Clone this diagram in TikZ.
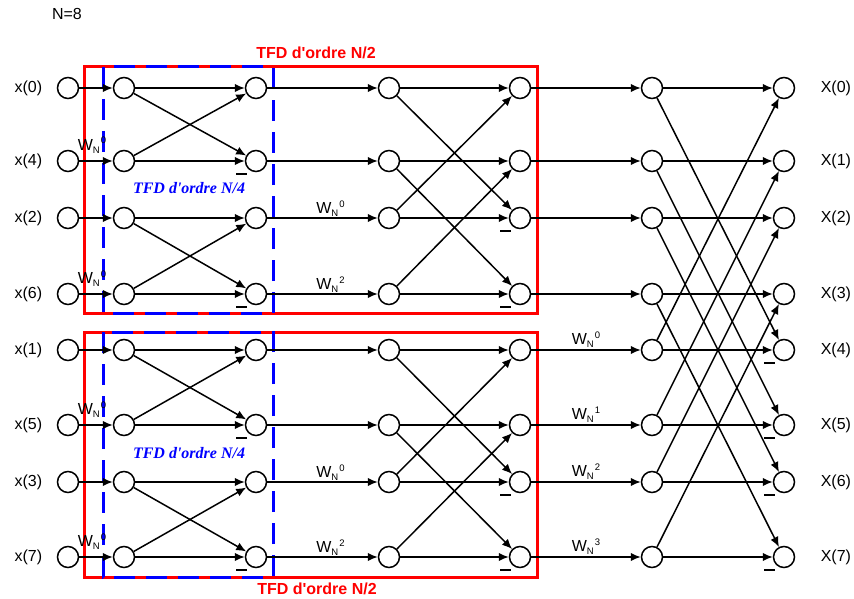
\documentclass[tikz,border=0pt]{standalone}
\usepackage{fontspec}
\setmainfont{Liberation Sans}
\newfontfamily\serifbf{Liberation Serif}
\usepackage{tikz}
\usetikzlibrary{arrows.meta,positioning,calc}
\usepackage{xcolor}
\definecolor{boxred}{RGB}{255,0,0}
\definecolor{boxblue}{RGB}{0,0,255}
\newcommand{\twf}[1]{W\raisebox{-3pt}{\fontsize{9.5}{10}\selectfont N}\hspace{1pt}\raisebox{6pt}{\fontsize{9.5}{10}\selectfont #1}}

\begin{document}
\begin{tikzpicture}[
    x=1pt, y=-1pt,
    every node/.style={font=\fontsize{16}{19}\selectfont},
    dot/.style={circle, draw, line width=1.5pt, fill=white, minimum size=21pt, inner sep=0pt},
    arr/.style={-{Latex[length=10pt,width=8.5pt]}, line width=1.5pt},
    sgn/.style={fill=black, minimum width=11pt, minimum height=2.4pt, inner sep=0pt},
    tw/.style={midway, anchor=base, inner sep=0pt},
    halfbox/.style={draw=boxred, line width=3pt},
    quarterbox/.style={draw=boxblue, line width=3pt, dash pattern=on 21pt off 11pt},
    halftitle/.style={text=boxred, font=\fontsize{16}{19}\selectfont\bfseries},
    quartertitle/.style={text=boxblue, font=\fontsize{16}{19}\selectfont\serifbf\bfseries\itshape}
]
    \useasboundingbox (0,0) rectangle (854,599);

    % Sub-transform boxes
    \draw[halfbox] (84,67) rectangle (537,313);
    \draw[halfbox] (84,332) rectangle (537,577);
    \draw[quarterbox] (103,67) rectangle (273,313);
    \draw[quarterbox] (103,332) rectangle (273,577);

    \node[halftitle] (half-top) at (316,53) {TFD d\textquotesingle ordre N/2};
    \node[halftitle] (half-bot) at (317,589) {TFD d\textquotesingle ordre N/2};
    \node[quartertitle] (quarter-top) at (189,188) {TFD d\textquotesingle ordre N/4};
    \node[quartertitle] (quarter-bot) at (189,453) {TFD d\textquotesingle ordre N/4};

    % Nodes of the flow graph
    \foreach \c/\x in {0/68,1/124,2/256,3/389,4/520,5/652,6/784}
        \foreach \r/\y in {0/88,1/161,2/218,3/294,4/350,5/425,6/482,7/557}
            \node[dot] (n\c-\r) at (\x,\y) {};

    % Inputs and outputs
    \node (size) at (67,14) {N=8};
    \foreach \r/\k in {0/0,1/4,2/2,3/6,4/1,5/5,6/3,7/7}
        \node[left=11pt of n0-\r] (in-\r) {x(\k)};
    \foreach \r in {0,...,7}
        \node[right=22pt of n6-\r] (out-\r) {X(\r)};

    % Stage 1
    \foreach \r in {0,2,4,6} \draw[arr] (n0-\r) -- (n1-\r);
    \foreach \r in {1,3,5,7} \draw[arr] (n0-\r) -- node[tw, xshift=-4pt, yshift=11pt] {\twf{0}} (n1-\r);
    \foreach \a/\b in {0/1,2/3,4/5,6/7} {
        \draw[arr] (n1-\a) -- (n2-\a);
        \draw[arr] (n1-\b) -- (n2-\b);
        \draw[arr] (n1-\a) -- (n2-\b);
        \draw[arr] (n1-\b) -- (n2-\a);
    }

    % Stage 2
    \foreach \r in {0,1,4,5} \draw[arr] (n2-\r) -- (n3-\r);
    \foreach \r/\k in {2/0,3/2,6/0,7/2} \draw[arr] (n2-\r) -- node[tw, xshift=8pt, yshift=5pt] {\twf{\k}} (n3-\r);
    \foreach \a/\b in {0/2,1/3,4/6,5/7} {
        \draw[arr] (n3-\a) -- (n4-\a);
        \draw[arr] (n3-\b) -- (n4-\b);
        \draw[arr] (n3-\a) -- (n4-\b);
        \draw[arr] (n3-\b) -- (n4-\a);
    }

    % Stage 3
    \foreach \r in {0,1,2,3} \draw[arr] (n4-\r) -- (n5-\r);
    \foreach \r/\k in {4/0,5/1,6/2,7/3} \draw[arr] (n4-\r) -- node[tw, yshift=6pt] {\twf{\k}} (n5-\r);
    \foreach \a/\b in {0/4,1/5,2/6,3/7} {
        \draw[arr] (n5-\a) -- (n6-\a);
        \draw[arr] (n5-\b) -- (n6-\b);
        \draw[arr] (n5-\a) -- (n6-\b);
        \draw[arr] (n5-\b) -- (n6-\a);
    }

    % Minus signs
    \foreach \c/\r in {2/1,2/3,2/5,2/7,4/2,4/3,4/6,4/7,6/4,6/5,6/6,6/7}
        \node[sgn] (m\c-\r) at ([shift={(-15,13)}]n\c-\r) {};
\end{tikzpicture}
\end{document}
